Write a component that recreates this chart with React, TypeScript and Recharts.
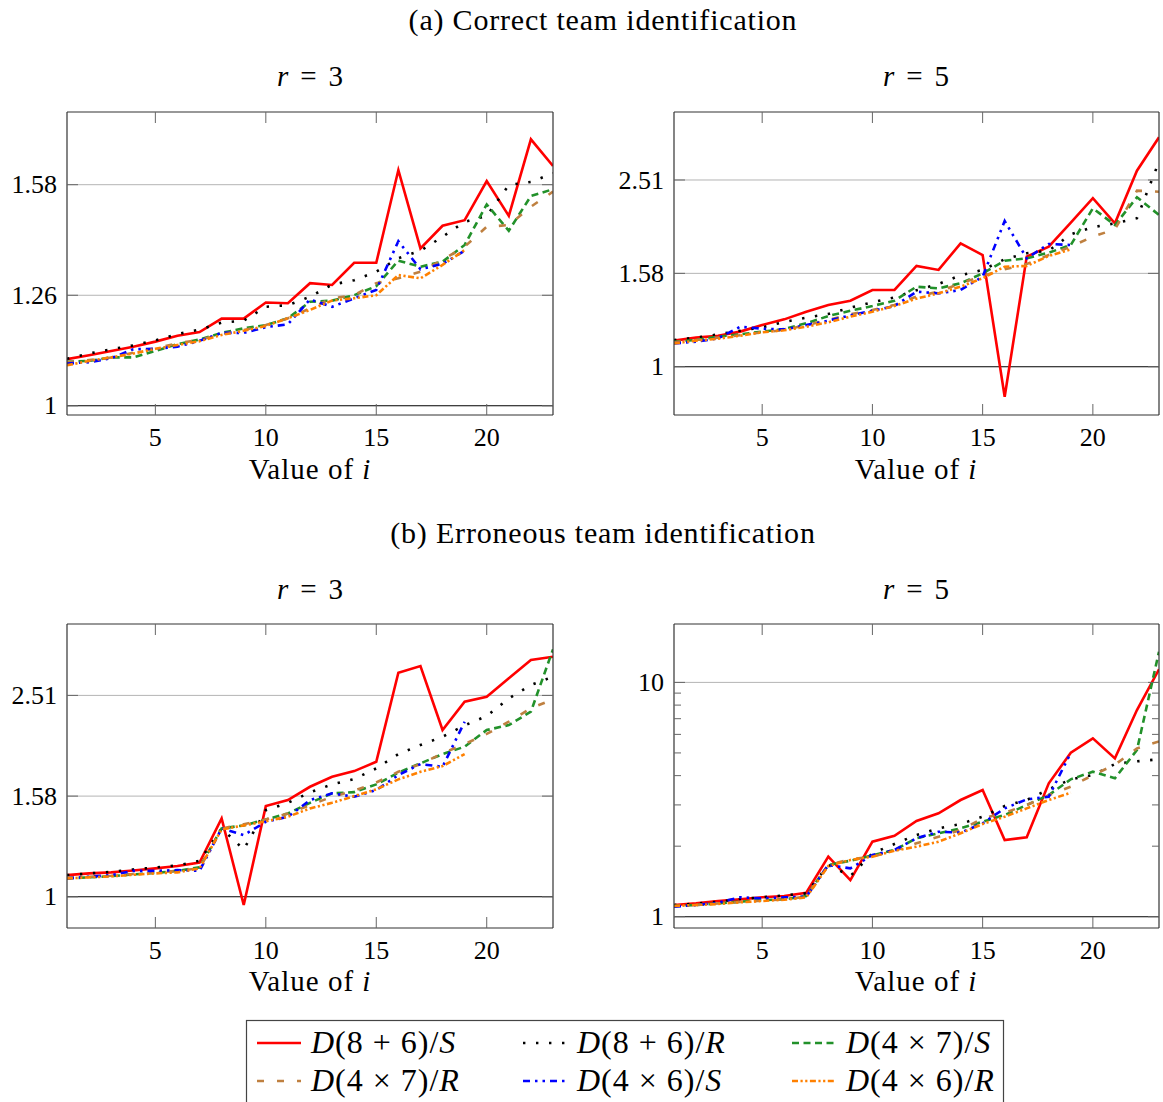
import React from 'react';
import { LineChart, Line, XAxis, YAxis, ReferenceLine } from 'recharts';

const FONT = "'Liberation Serif', 'Times New Roman', serif";
const FRAME = '#333';
const TICK = '#666';
const GRID = '#b4b4b4';

// x positions (value of i)
const iValues = [1, 2, 3, 4, 5, 6, 7, 8, 9, 10, 11, 12, 13, 14, 15, 16, 17, 18, 19, 20, 21, 22, 23];
const xTicks = [5, 10, 15, 20];

// (a) correct team identification, r = 3
const a3_D86S = [1.102, 1.111, 1.121, 1.131, 1.143, 1.157, 1.166, 1.199, 1.199, 1.240, 1.238, 1.291, 1.286, 1.347, 1.347, 1.634, 1.388, 1.455, 1.472, 1.597, 1.485, 1.742, 1.648];
const a3_D86R = [1.103, 1.115, 1.125, 1.134, 1.146, 1.161, 1.172, 1.189, 1.194, 1.229, 1.233, 1.255, 1.287, 1.299, 1.322, 1.360, 1.381, 1.422, 1.467, 1.485, 1.584, 1.594, 1.623];
const a3_D47S = [1.096, 1.098, 1.106, 1.106, 1.121, 1.137, 1.148, 1.164, 1.175, 1.183, 1.200, 1.242, 1.245, 1.259, 1.283, 1.353, 1.336, 1.350, 1.398, 1.521, 1.440, 1.548, 1.570];
const a3_D47R = [1.095, 1.100, 1.106, 1.117, 1.127, 1.139, 1.147, 1.161, 1.171, 1.183, 1.200, 1.225, 1.251, 1.259, 1.291, 1.304, 1.322, 1.355, 1.393, 1.452, 1.457, 1.514, 1.562];
const a3_D46S = [1.092, 1.095, 1.104, 1.125, 1.126, 1.131, 1.145, 1.164, 1.164, 1.178, 1.185, 1.248, 1.229, 1.251, 1.273, 1.409, 1.329, 1.344, 1.381, null, null, null, null];
const a3_D46R = [1.088, 1.098, 1.106, 1.115, 1.126, 1.135, 1.144, 1.159, 1.169, 1.181, 1.200, 1.221, 1.245, 1.251, 1.259, 1.313, 1.304, 1.341, 1.383, null, null, null, null];

// (a) correct team identification, r = 5
const a5_D86S = [1.137, 1.154, 1.165, 1.189, 1.228, 1.263, 1.312, 1.356, 1.385, 1.460, 1.460, 1.644, 1.612, 1.838, 1.735, 0.862, 1.721, 1.808, 2.035, 2.296, 2.029, 2.630, 3.101];
const a5_D86R = [1.141, 1.154, 1.173, 1.194, 1.214, 1.247, 1.274, 1.297, 1.338, 1.374, 1.408, 1.458, 1.504, 1.570, 1.612, 1.699, 1.750, 1.773, 1.921, 1.990, 2.029, 2.080, 2.750];
const a5_D47S = [1.131, 1.141, 1.160, 1.173, 1.189, 1.204, 1.239, 1.284, 1.318, 1.349, 1.385, 1.484, 1.472, 1.509, 1.585, 1.687, 1.707, 1.755, 1.823, 2.185, 2.012, 2.307, 2.114];
const a5_D47R = [1.128, 1.141, 1.154, 1.168, 1.185, 1.198, 1.228, 1.259, 1.295, 1.323, 1.356, 1.413, 1.448, 1.509, 1.564, 1.617, 1.660, 1.735, 1.808, 1.899, 1.970, 2.383, 2.371];
const a5_D46S = [1.122, 1.131, 1.150, 1.218, 1.206, 1.202, 1.228, 1.255, 1.288, 1.318, 1.349, 1.448, 1.436, 1.460, 1.559, 2.052, 1.707, 1.832, 1.823, null, null, null, null];
const a5_D46R = [1.122, 1.137, 1.148, 1.165, 1.185, 1.197, 1.218, 1.245, 1.280, 1.312, 1.349, 1.399, 1.436, 1.484, 1.547, 1.638, 1.644, 1.727, 1.784, null, null, null, null];

// (b) erroneous team identification, r = 3
const b3_D86S = [1.104, 1.113, 1.118, 1.128, 1.139, 1.151, 1.169, 1.431, 0.963, 1.514, 1.556, 1.654, 1.731, 1.777, 1.854, 2.787, 2.873, 2.144, 2.441, 2.497, 2.716, 2.953, 2.998];
const b3_D86R = [1.104, 1.113, 1.121, 1.133, 1.144, 1.154, 1.179, 1.367, 1.242, 1.486, 1.537, 1.612, 1.672, 1.713, 1.799, 1.920, 2.002, 2.079, 2.190, 2.286, 2.478, 2.634, 2.736];
const b3_D47S = [1.088, 1.093, 1.099, 1.108, 1.115, 1.126, 1.144, 1.367, 1.386, 1.424, 1.464, 1.537, 1.605, 1.614, 1.672, 1.764, 1.841, 1.920, 1.987, 2.144, 2.193, 2.332, 3.101];
const b3_D47R = [1.091, 1.096, 1.101, 1.110, 1.117, 1.126, 1.139, 1.367, 1.394, 1.424, 1.464, 1.521, 1.580, 1.624, 1.687, 1.771, 1.835, 1.927, 2.011, 2.106, 2.227, 2.368, 2.467];
const b3_D46S = [1.088, 1.096, 1.104, 1.126, 1.126, 1.130, 1.126, 1.367, 1.326, 1.409, 1.442, 1.556, 1.605, 1.580, 1.629, 1.745, 1.835, 1.812, 2.227, null, null, null, null];
const b3_D46R = [1.088, 1.093, 1.098, 1.106, 1.113, 1.118, 1.139, 1.361, 1.386, 1.412, 1.442, 1.498, 1.537, 1.585, 1.635, 1.711, 1.771, 1.818, 1.920, null, null, null, null];

// (b) erroneous team identification, r = 5
const b5_D86S = [1.122, 1.140, 1.167, 1.186, 1.210, 1.226, 1.266, 1.804, 1.434, 2.090, 2.216, 2.561, 2.763, 3.148, 3.474, 2.125, 2.182, 3.710, 5.01, 5.77, 4.74, 7.62, 11.37];
const b5_D86R = [1.122, 1.137, 1.159, 1.190, 1.210, 1.233, 1.258, 1.662, 1.492, 1.864, 2.043, 2.232, 2.384, 2.487, 2.672, 2.969, 3.148, 3.497, 3.858, 4.025, 4.484, 4.604, 4.697];
const b5_D47S = [1.111, 1.122, 1.140, 1.159, 1.178, 1.186, 1.226, 1.662, 1.734, 1.828, 1.926, 2.161, 2.270, 2.384, 2.544, 2.716, 2.997, 3.306, 3.858, 4.157, 3.896, 5.146, 13.52];
const b5_D47R = [1.111, 1.122, 1.140, 1.155, 1.170, 1.186, 1.217, 1.662, 1.758, 1.804, 1.913, 2.057, 2.194, 2.344, 2.630, 2.779, 2.997, 3.30, 3.59, 4.02, 4.45, 5.23, 5.6];
const b5_D46S = [1.103, 1.122, 1.148, 1.210, 1.198, 1.210, 1.217, 1.662, 1.608, 1.834, 1.926, 2.161, 2.306, 2.283, 2.502, 2.900, 3.167, 3.252, 5.01, null, null, null, null];
const b5_D46R = [1.111, 1.122, 1.133, 1.152, 1.167, 1.182, 1.210, 1.646, 1.746, 1.804, 1.913, 1.990, 2.090, 2.270, 2.487, 2.672, 2.900, 3.148, 3.382, null, null, null, null];

// y tick values and their printed labels
const ticksSmall = [1, 1.2589, 1.5849];
const labelsSmall = ['1', '1.26', '1.58'];
const ticksMid = [1, 1.5849, 2.5119];
const labelsMid = ['1', '1.58', '2.51'];
const ticksDecade = [1, 10];
const labelsDecade = ['1', '10'];
const minorDecade = [2, 3, 4, 5, 6, 7, 8, 9];

type SeriesStyle = {
  key: string;
  color: string;
  dash?: string;
  name: [string, string, string];
};

const seriesStyles: SeriesStyle[] = [
  { key: 'D86S', color: '#ff0000', name: ['D', '(8 + 6)/', 'S'] },
  { key: 'D86R', color: '#000000', dash: '2.4 10.6', name: ['D', '(8 + 6)/', 'R'] },
  { key: 'D47S', color: '#22912a', dash: '7 4.5', name: ['D', '(4 × 7)/', 'S'] },
  { key: 'D47R', color: '#bf8040', dash: '7 13', name: ['D', '(4 × 7)/', 'R'] },
  { key: 'D46S', color: '#0000ff', dash: '7 5 2.5 5 2.5 5', name: ['D', '(4 × 6)/', 'S'] },
  { key: 'D46R', color: '#ff8000', dash: '6 2.5 2.2 2.5 2.2 2.5', name: ['D', '(4 × 6)/', 'R'] },
];

type PanelCfg = {
  plotX: number;
  plotY: number;
  plotW: number;
  plotH: number;
  domain: [number, number];
  major: number[];
  majorLabels: string[];
  minor: number[];
  series: Record<string, (number | null)[]>;
};

const panels: PanelCfg[] = [
  {
    plotX: 67, plotY: 112, plotW: 486, plotH: 303,
    domain: [0.981, 1.844], major: ticksSmall, majorLabels: labelsSmall, minor: [],
    series: { D86S: a3_D86S, D86R: a3_D86R, D47S: a3_D47S, D47R: a3_D47R, D46S: a3_D46S, D46R: a3_D46R },
  },
  {
    plotX: 674, plotY: 112, plotW: 485, plotH: 303,
    domain: [0.788, 3.513], major: ticksMid, majorLabels: labelsMid, minor: [],
    series: { D86S: a5_D86S, D86R: a5_D86R, D47S: a5_D47S, D47R: a5_D47R, D46S: a5_D46S, D46R: a5_D46R },
  },
  {
    plotX: 67, plotY: 624, plotW: 486, plotH: 304,
    domain: [0.867, 3.482], major: ticksMid, majorLabels: labelsMid, minor: [],
    series: { D86S: b3_D86S, D86R: b3_D86R, D47S: b3_D47S, D47R: b3_D47R, D46S: b3_D46S, D46R: b3_D46R },
  },
  {
    plotX: 674, plotY: 624, plotW: 485, plotH: 304,
    domain: [0.895, 17.75], major: ticksDecade, majorLabels: labelsDecade, minor: minorDecade,
    series: { D86S: b5_D86S, D86R: b5_D86R, D47S: b5_D47S, D47R: b5_D47R, D46S: b5_D46S, D46R: b5_D46R },
  },
];

const LEFT_W = 70;
const TOP_M = 10;
const RIGHT_M = 10;
const BOTTOM_H = 44;

function Panel({ cfg }: { cfg: PanelCfg }) {
  const width = LEFT_W + cfg.plotW + RIGHT_M;
  const height = TOP_M + cfg.plotH + BOTTOM_H;
  const data = iValues.map((i, k) => {
    const row: Record<string, number | null> = { i };
    for (const s of seriesStyles) row[s.key] = cfg.series[s.key][k] ?? null;
    return row;
  });
  const yTicks = [...cfg.major, ...cfg.minor];

  const xTickBottom = (p: any) => (
    <g>
      <line x1={p.x} y1={p.y} x2={p.x} y2={p.y - 11} stroke={TICK} strokeWidth={1} />
      <text x={p.x} y={p.y + 31} textAnchor="middle" fontFamily={FONT} fontSize={26} fill="#000">
        {p.payload.value}
      </text>
    </g>
  );
  const xTickTop = (p: any) => (
    <line x1={p.x} y1={p.y} x2={p.x} y2={p.y + 11} stroke={TICK} strokeWidth={1} />
  );
  const yTickLeft = (p: any) => {
    const idx = cfg.major.indexOf(p.payload.value);
    const len = idx >= 0 ? 11 : 7;
    return (
      <g>
        <line x1={p.x} y1={p.y} x2={p.x + len} y2={p.y} stroke={TICK} strokeWidth={1} />
        {idx >= 0 && (
          <text x={p.x - 10} y={p.y} dy="0.33em" textAnchor="end" fontFamily={FONT} fontSize={26} fill="#000">
            {cfg.majorLabels[idx]}
          </text>
        )}
      </g>
    );
  };
  const yTickRight = (p: any) => {
    const len = cfg.major.indexOf(p.payload.value) >= 0 ? 11 : 7;
    return <line x1={p.x - len} y1={p.y} x2={p.x} y2={p.y} stroke={TICK} strokeWidth={1} />;
  };

  const frame = { stroke: FRAME, strokeWidth: 1.2 };

  return (
    <div style={{ position: 'absolute', left: cfg.plotX - LEFT_W, top: cfg.plotY - TOP_M }}>
      <LineChart
        width={width}
        height={height}
        data={data}
        margin={{ top: TOP_M - 1, right: RIGHT_M - 1, bottom: 0, left: 0 }}
      >
        <XAxis
          dataKey="i" type="number" domain={[1, 23]} allowDataOverflow ticks={xTicks} interval={0}
          height={BOTTOM_H} axisLine={frame} tickLine={false} tickSize={0} tickMargin={0} tick={xTickBottom}
        />
        <XAxis
          xAxisId="top" orientation="top" dataKey="i" type="number" domain={[1, 23]} allowDataOverflow
          ticks={xTicks} interval={0} height={1} axisLine={frame} tickLine={false} tickSize={0} tickMargin={0}
          tick={xTickTop}
        />
        <YAxis
          scale="log" type="number" domain={cfg.domain} allowDataOverflow ticks={yTicks} interval={0}
          width={LEFT_W} axisLine={frame} tickLine={false} tickSize={0} tickMargin={0} tick={yTickLeft}
        />
        <YAxis
          yAxisId="right" orientation="right" scale="log" type="number" domain={cfg.domain} allowDataOverflow
          ticks={yTicks} interval={0} width={1} axisLine={frame} tickLine={false} tickSize={0} tickMargin={0}
          tick={yTickRight}
        />
        {cfg.major.map((v) => (
          <ReferenceLine key={v} y={v} stroke={v === 1 ? '#000' : GRID} strokeWidth={v === 1 ? 1.1 : 1} />
        ))}
        {seriesStyles.map((s) => (
          <Line
            key={s.key}
            dataKey={s.key}
            type="linear"
            stroke={s.color}
            strokeWidth={2.6}
            strokeDasharray={s.dash}
            strokeLinejoin="miter"
            dot={false}
            activeDot={false}
            connectNulls={false}
            isAnimationActive={false}
          />
        ))}
      </LineChart>
    </div>
  );
}

function MathName({ parts, x, y }: { parts: [string, string, string]; x: number; y: number }) {
  return (
    <text x={x} y={y} fontFamily={FONT} fontSize={32} letterSpacing={1} fill="#000">
      <tspan fontStyle="italic">{parts[0]}</tspan>
      <tspan>{parts[1]}</tspan>
      <tspan fontStyle="italic">{parts[2]}</tspan>
    </text>
  );
}

function RTitle({ x, y, r }: { x: number; y: number; r: string }) {
  return (
    <text x={x} y={y} textAnchor="middle" fontSize={29}>
      <tspan fontStyle="italic">r</tspan>
      <tspan dx={12}>=</tspan>
      <tspan dx={12}>{r}</tspan>
    </text>
  );
}

const legendCols = [257, 523, 792];
const legendRows = [1043, 1081];

export default function App() {
  return (
    <div style={{ position: 'absolute', left: 0, top: 0, width: 1163, height: 1102, background: '#fff', overflow: 'hidden' }}>
      {panels.map((p, k) => (
        <Panel key={k} cfg={p} />
      ))}
      <svg width={1163} height={1102} style={{ position: 'absolute', left: 0, top: 0, pointerEvents: 'none' }}>
        <g fontFamily={FONT} fill="#000">
          <text x={603} y={30} textAnchor="middle" fontSize={30} letterSpacing={0.8}>(a) Correct team identification</text>
          <text x={603} y={543} textAnchor="middle" fontSize={30} letterSpacing={0.8}>(b) Erroneous team identification</text>
          <RTitle x={310} y={86} r="3" />
          <RTitle x={916} y={86} r="5" />
          <RTitle x={310} y={599} r="3" />
          <RTitle x={916} y={599} r="5" />
          {[
            [310, 479], [916, 479], [310, 991], [916, 991],
          ].map(([x, y], k) => (
            <text key={`v${k}`} x={x} y={y} textAnchor="middle" fontSize={29} letterSpacing={1}>
              Value of <tspan fontStyle="italic">i</tspan>
            </text>
          ))}
        </g>
        <rect x={246.5} y={1020.5} width={757} height={100} fill="none" stroke="#444" strokeWidth={1.2} />
        {seriesStyles.map((s, k) => {
          const col = k % 3;
          const row = Math.floor(k / 3);
          const x0 = legendCols[col];
          const y0 = legendRows[row];
          return (
            <g key={s.key}>
              <line x1={x0} y1={y0} x2={x0 + 44} y2={y0} stroke={s.color} strokeWidth={2.6} strokeDasharray={s.dash} />
              <MathName parts={s.name} x={x0 + 54} y={y0 + 10} />
            </g>
          );
        })}
      </svg>
    </div>
  );
}
